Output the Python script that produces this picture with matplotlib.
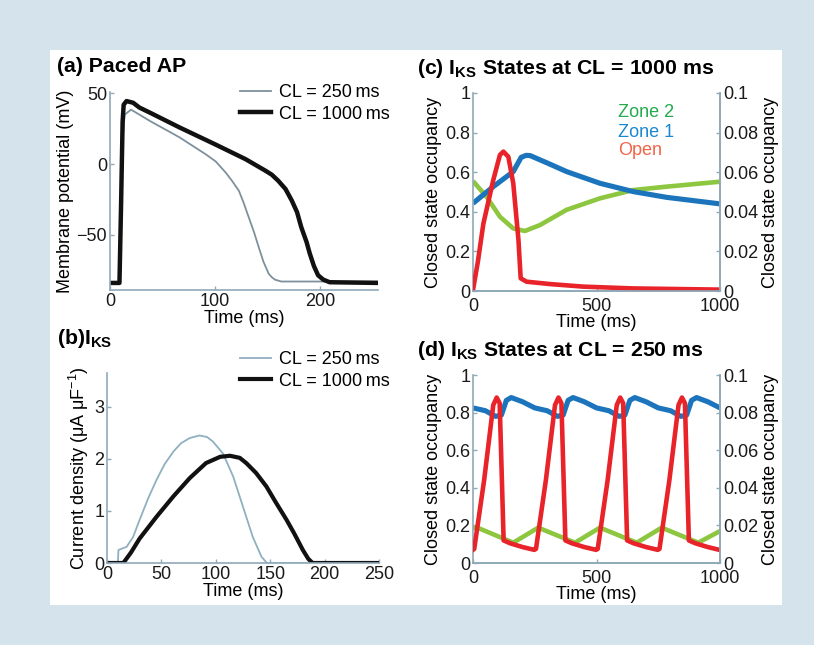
import matplotlib
matplotlib.use("Agg")
import matplotlib.pyplot as plt
from matplotlib.patches import Rectangle

plt.rcParams['font.family'] = ['Liberation Sans', 'DejaVu Sans']
plt.rcParams['mathtext.fontset'] = 'custom'
plt.rcParams['mathtext.rm'] = 'Liberation Sans'
plt.rcParams['mathtext.bf'] = 'Liberation Sans:bold'
plt.rcParams['mathtext.it'] = 'Liberation Sans:italic'

# ---- data ----
# (a) action potentials
ap1000_t = [0, 9, 10.5, 12, 13, 15.7, 22, 28, 38, 66, 100, 129, 148, 154, 160, 167, 173, 178, 182,
            187, 190, 194, 198, 203, 209, 255]
ap1000_v = [-84, -84, -30, 30, 42, 44.6, 43.4, 40, 36.4, 26, 14, 3.5, -4.7, -7.5, -11.7, -17.6, -25.8, -34, -44.6,
            -55, -63, -72, -78.6, -81.7, -83.5, -84]
ap250_t = [0, 9, 11, 14, 20, 28, 38, 66, 91, 100.6, 110, 116, 122.6, 127, 132, 137, 141.5, 146, 151, 154,
           157, 163, 255]
ap250_v = [-84, -84, 10, 35, 38.5, 35, 30.5, 19, 7, 1.9, -5.9, -11.7, -18.8, -27, -37.6, -48, -58.7, -69, -77.5, -80,
           -81.7, -83, -83]

# (b) IKS current
iks250_t = [0, 10, 10.5, 18, 24, 30, 38, 45.6, 53, 61, 68, 76, 85, 92, 97.5, 106.7, 116, 125, 134, 142, 147, 250]
iks250_v = [0, 0, 0.25, 0.31, 0.5, 0.83, 1.25, 1.6, 1.9, 2.14, 2.3, 2.4, 2.45, 2.42, 2.33, 2.1, 1.66, 1.08, 0.5, 0.12, 0, 0]
iks1000_t = [0, 15, 22, 30, 45.6, 61, 76, 91, 104, 113, 122, 128, 137, 146.5, 155, 165, 172, 180, 185, 189, 250]
iks1000_v = [0, 0, 0.2, 0.47, 0.89, 1.28, 1.63, 1.92, 2.04, 2.06, 2.02, 1.92, 1.73, 1.47, 1.17, 0.83, 0.57, 0.25, 0.08, 0, 0]

# (c) IKS states at CL = 1000 ms
c_zone2_t = [0, 55, 109, 163, 210, 271, 379, 514, 649, 784, 1000]
c_zone2 = [0.555, 0.476, 0.375, 0.316, 0.303, 0.333, 0.41, 0.468, 0.51, 0.527, 0.552]
c_zone1_t = [0, 82, 163, 195, 215, 231, 298, 379, 514, 649, 784, 1000]
c_zone1 = [0.443, 0.527, 0.603, 0.675, 0.685, 0.684, 0.648, 0.603, 0.544, 0.502, 0.473, 0.44]
c_open_t = [0, 20, 42, 82, 109, 123, 143, 163, 184, 193, 217, 312, 447, 649, 1000]
c_open = [0.0005, 0.015, 0.034, 0.056, 0.0687, 0.0704, 0.0678, 0.0544, 0.0258, 0.0064,
          0.0047, 0.0035, 0.0022, 0.0013, 0.0007]

# (d) IKS states at CL = 250 ms
d_zone1_t = [0, 50, 92, 115, 135, 155, 200, 250, 300, 342, 365, 385, 405, 450, 500,
             550, 592, 615, 635, 655, 700, 750, 800, 842, 865, 885, 905, 950, 1000]
d_zone1 = [0.825, 0.81, 0.78, 0.787, 0.865, 0.88, 0.858, 0.825, 0.81, 0.78, 0.787, 0.865, 0.88, 0.858, 0.825,
           0.81, 0.78, 0.787, 0.865, 0.88, 0.858, 0.825, 0.81, 0.78, 0.787, 0.865, 0.88, 0.858, 0.825]
d_zone2_t = [0, 14, 163, 264, 413, 514, 663, 764, 912, 1000]
d_zone2 = [0.185, 0.19, 0.108, 0.188, 0.108, 0.188, 0.108, 0.188, 0.108, 0.17]
d_open_t = [0, 5, 45, 82, 96, 108, 124, 150, 200, 248,
            255, 295, 332, 346, 358, 374, 400, 450, 498,
            505, 545, 582, 596, 608, 624, 650, 700, 748,
            755, 795, 832, 846, 858, 874, 900, 950, 1000]
d_open = [0.007, 0.0075, 0.044, 0.084, 0.088, 0.085, 0.012, 0.0105, 0.0085, 0.007,
          0.0075, 0.044, 0.084, 0.088, 0.085, 0.012, 0.0105, 0.0085, 0.007,
          0.0075, 0.044, 0.084, 0.088, 0.085, 0.012, 0.0105, 0.0085, 0.007,
          0.0075, 0.044, 0.084, 0.088, 0.085, 0.012, 0.0105, 0.0085, 0.0069]

spine_col = '#8fa9b9'
green, blue, red = '#8dc63f', '#1c75bc', '#e8232a'
FS = 13
TFS = 15.3

fig = plt.figure(figsize=(8.14, 6.45), dpi=100, facecolor='#d4e3ec')
fig.patches.append(Rectangle((50 / 814, 40 / 645), 732 / 814, 555 / 645,
                             transform=fig.transFigure, facecolor='white', edgecolor='none', zorder=-5))


def style(ax, right=False):
    ax.set_facecolor('none')
    for s in ['top'] + ([] if right else ['right']):
        ax.spines[s].set_visible(False)
    for s in ['left', 'bottom', 'right']:
        ax.spines[s].set_color(spine_col)
        ax.spines[s].set_linewidth(1.2)
    ax.tick_params(direction='in', length=3, width=1, color=spine_col, labelsize=FS, pad=2,
                   labelcolor='#1a1a1a')


def box(l, r, t, b):
    return [l / 814, 1 - b / 645, (r - l) / 814, (b - t) / 645]


# (a)
ax = fig.add_axes(box(110, 378, 92, 290))
style(ax)
ax.plot(ap250_t, ap250_v, color='#7d919c', lw=1.3, label='CL = 250\u2009ms')
ax.plot(ap1000_t, ap1000_v, color='#111111', lw=3.2, label='CL = 1000\u2009ms')
ax.set_xlim(0, 255)
ax.set_ylim(-89, 51)
ax.set_xticks([0, 100, 200])
ax.set_yticks([-50, 0, 50])
ax.set_yticklabels(['\u221250', '0', '50'])
ax.set_xlabel('Time (ms)', fontsize=FS, labelpad=0)
ax.set_ylabel('Membrane potential (mV)', fontsize=FS, labelpad=2)
ax.legend(loc='upper left', bbox_to_anchor=(0.485, 1.04), frameon=False, fontsize=FS,
          handlelength=1.7, handletextpad=0.45, borderpad=0, borderaxespad=0, labelspacing=0.25)
fig.text(57 / 814, 1 - 66 / 645, '(a) Paced AP', fontsize=TFS, fontweight='bold', va='center')

# (b)
ax = fig.add_axes(box(107, 379, 373, 563))
style(ax)
ax.plot(iks250_t, iks250_v, color='#8fb0c0', lw=1.3, label='CL = 250\u2009ms')
ax.plot(iks1000_t, iks1000_v, color='#111111', lw=3.0, label='CL = 1000\u2009ms')
ax.set_xlim(0, 250)
ax.set_ylim(0, 3.65)
ax.set_xticks([0, 50, 100, 150, 200, 250])
ax.set_yticks([0, 1, 2, 3])
ax.set_xlabel('Time (ms)', fontsize=FS, labelpad=0)
ax.set_ylabel('Current density (\u03bcA \u03bcF$^{-1}$)', fontsize=FS, labelpad=2)
ax.legend(loc='upper left', bbox_to_anchor=(0.489, 1.115), frameon=False, fontsize=FS,
          handlelength=1.7, handletextpad=0.45, borderpad=0, borderaxespad=0, labelspacing=0.25)
fig.text(57 / 814, 1 - 338 / 645, r'(b)$\mathbf{I_{KS}}$', fontsize=TFS, fontweight='bold', va='center')


def states(box_px, z2_t, z2, z1_t, z1, op_t, op, title, title_y):
    ax = fig.add_axes(box(*box_px))
    style(ax, right=True)
    ax.tick_params(axis='x', pad=5)
    ax.plot(z2_t, z2, color=green, lw=3.3, solid_capstyle='butt')
    ax.plot(z1_t, z1, color=blue, lw=3.7, solid_capstyle='butt')
    ax.set_xlim(0, 1000)
    ax.set_ylim(0, 1)
    ax.set_xticks([0, 500, 1000])
    ax.set_yticks([0, 0.2, 0.4, 0.6, 0.8, 1])
    ax.set_yticklabels(['0', '0.2', '0.4', '0.6', '0.8', '1'])
    ax.set_xlabel('Time (ms)', fontsize=FS, labelpad=-1)
    ax.set_ylabel('Closed state occupancy', fontsize=FS, labelpad=2)
    ax2 = ax.twinx()
    style(ax2, right=True)
    ax2.spines['left'].set_visible(False)
    ax2.plot(op_t, op, color=red, lw=3.3)
    ax2.set_ylim(0, 0.1)
    ax2.set_yticks([0, 0.02, 0.04, 0.06, 0.08, 0.1])
    ax2.set_yticklabels(['0', '0.02', '0.04', '0.06', '0.08', '0.1'])
    ax2.set_ylabel('Closed state occupancy', fontsize=FS, labelpad=3)
    fig.text(417 / 814, 1 - title_y / 645, title, fontsize=TFS, fontweight='bold', va='center')
    return ax


ax = states((473, 720, 93, 291), c_zone2_t, c_zone2, c_zone1_t, c_zone1, c_open_t, c_open,
            r'(c) $\mathbf{I_{KS}}$ States at CL = 1000 ms', 68)
ax.text(0.587, 0.904, 'Zone 2', color='#22aa4c', fontsize=FS, transform=ax.transAxes, va='center')
ax.text(0.587, 0.803, 'Zone 1', color='#1a88d0', fontsize=FS, transform=ax.transAxes, va='center')
ax.text(0.587, 0.712, 'Open', color='#f26448', fontsize=FS, transform=ax.transAxes, va='center')

states((473, 720, 375, 563), d_zone2_t, d_zone2, d_zone1_t, d_zone1, d_open_t, d_open,
       r'(d) $\mathbf{I_{KS}}$ States at CL = 250 ms', 350)

fig.savefig('out.png', dpi=100, facecolor=fig.get_facecolor())
